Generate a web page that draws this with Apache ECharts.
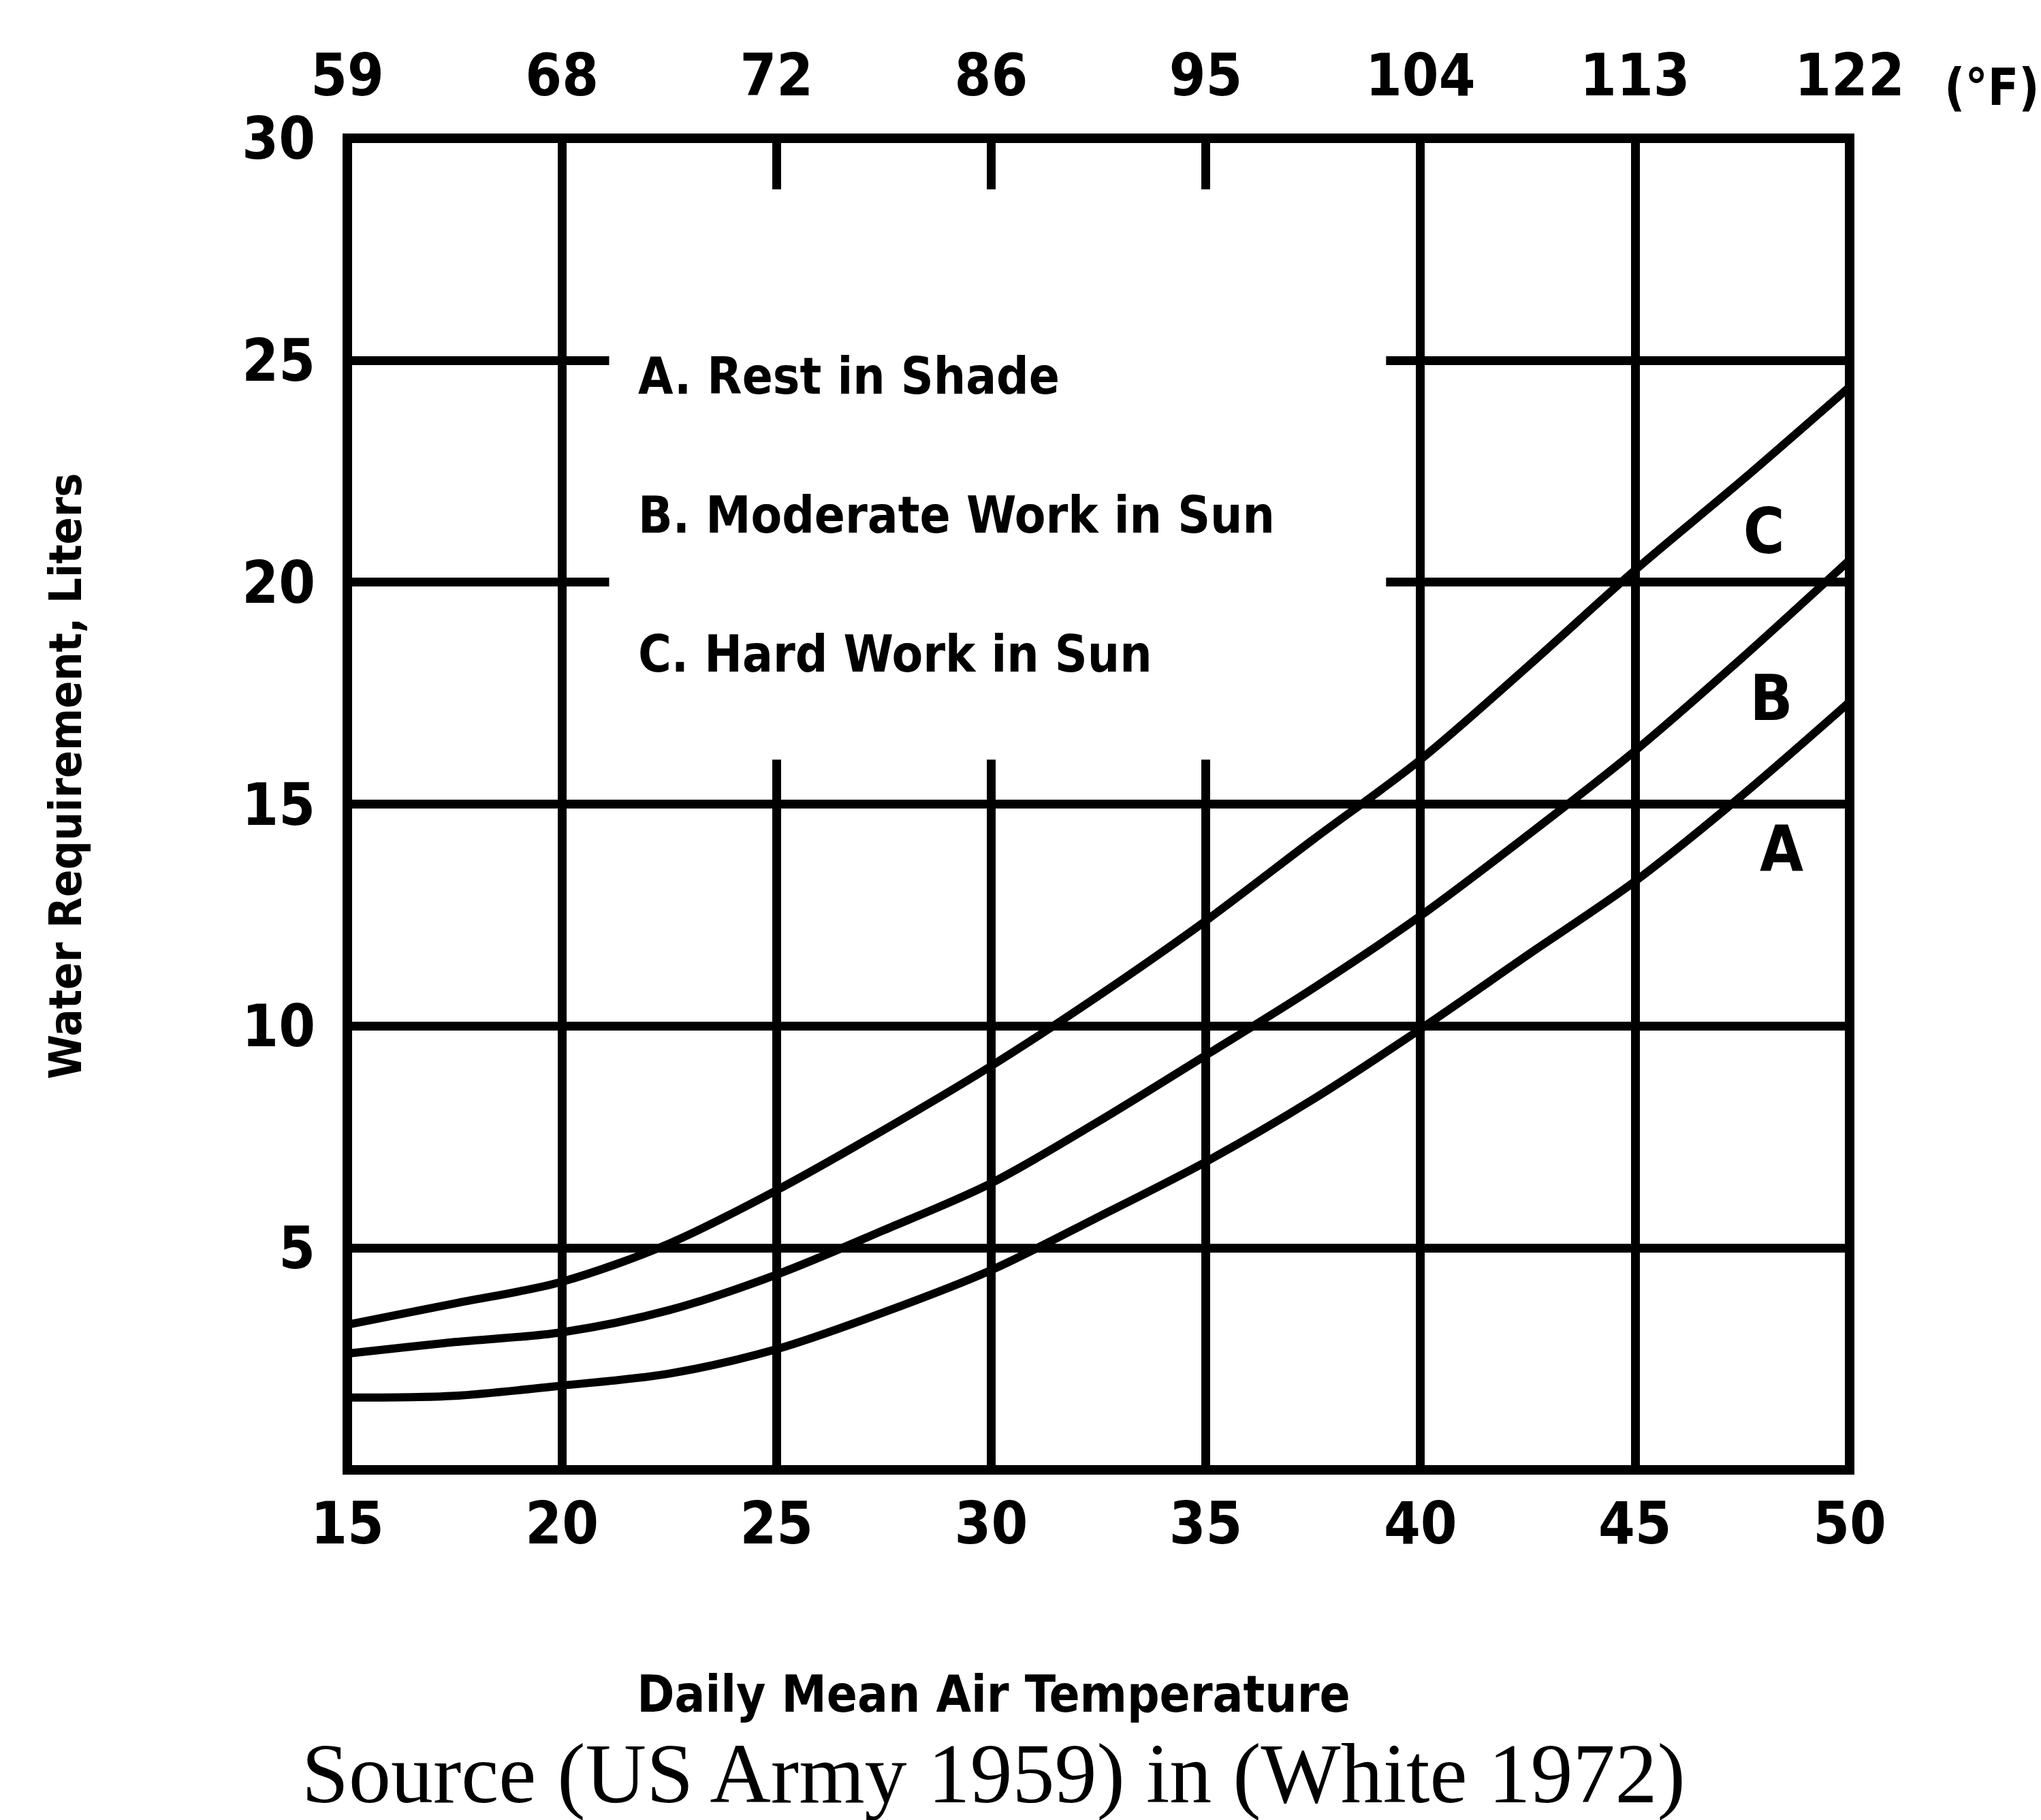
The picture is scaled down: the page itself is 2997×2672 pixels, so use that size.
<!DOCTYPE html>
<html>
<head>
<meta charset="utf-8">
<script src="https://cdn.jsdelivr.net/npm/echarts/dist/echarts.min.js"></script>
<style>
html,body{margin:0;padding:0;background:#ffffff;}
#chart{width:2997px;height:2672px;}
</style>
</head>
<body>
<div id="chart"></div>
<script>
// ---- data ----
const tempC        = [15, 17.5, 20, 22.5, 25, 27.5, 30, 32.5, 35, 37.5, 40, 42.5, 45, 47.5, 50];
const restShade    = [1.63, 1.67, 1.90, 2.17, 2.72, 3.55, 4.50, 5.70, 6.94, 8.35, 9.93, 11.6, 13.26, 15.2, 17.3];
const moderateSun  = [2.62, 2.88, 3.10, 3.60, 4.40, 5.40, 6.46, 7.85, 9.34, 10.85, 12.48, 14.3, 16.2, 18.3, 20.5];
const hardSun      = [3.27, 3.75, 4.24, 5.10, 6.30, 7.66, 9.10, 10.68, 12.37, 14.2, 16.0, 18.1, 20.27, 22.3, 24.4];
const seriesNames  = ['A. Rest in Shade', 'B. Moderate Work in Sun', 'C. Hard Work in Sun'];
const curveTags    = ['A', 'B', 'C'];
const fahrenheitLabels = ['59', '68', '72', '86', '95', '104', '113', '122'];
const fahrenheitUnit   = '(°F)';

// grid lines of the printed chart (some are interrupted around the legend block)
const yGridFull   = [5, 10, 15];
const yGridBroken = [20, 25];
const xGridFull   = [20, 40, 45];
const xGridBroken = [25, 30, 35];
const legendBlock = { xFrom: 21.1, xTo: 39.2, yFrom: 16.0 };

const NARROW = '"Liberation Sans Narrow", "DejaVu Sans Condensed", "Liberation Sans", sans-serif';
const SERIF  = '"Liberation Serif", "DejaVu Serif", serif';

const seg = (a, b) => [{ coord: a }, { coord: b }];
const gridSegments = [];
yGridFull.forEach(y => gridSegments.push(seg([15, y], [50, y])));
yGridBroken.forEach(y => {
  gridSegments.push(seg([15, y], [legendBlock.xFrom, y]));
  gridSegments.push(seg([legendBlock.xTo, y], [50, y]));
});
xGridFull.forEach(x => gridSegments.push(seg([x, 0], [x, 30])));
xGridBroken.forEach(x => gridSegments.push(seg([x, 0], [x, legendBlock.yFrom])));

const pairs = vals => tempC.map((t, i) => [t, vals[i]]);
const curves = [restShade, moderateSun, hardSun];
const tagOffsets = [[-100, 216], [-115, 203], [-126, 213]];

const chart = echarts.init(document.getElementById('chart'), null, { renderer: 'svg' });

const series = curves.map((vals, k) => ({
  name: seriesNames[k],
  type: 'line',
  data: pairs(vals),
  smooth: 0.3,
  symbol: 'none',
  showSymbol: false,
  silent: true,
  lineStyle: { color: '#000', width: 12, cap: 'round' },
  itemStyle: { color: '#000' },
  endLabel: {
    show: true,
    formatter: curveTags[k],
    fontFamily: NARROW,
    fontWeight: 'bold',
    fontSize: 92,
    color: '#000',
    align: 'center',
    verticalAlign: 'middle',
    distance: 0,
    offset: tagOffsets[k]
  },
  markLine: k === 0 ? {
    silent: true,
    symbol: ['none', 'none'],
    label: { show: false },
    lineStyle: { color: '#000', width: 13, type: 'solid' },
    emphasis: { disabled: true },
    animation: false,
    data: gridSegments
  } : undefined,
  z: 3
}));

chart.setOption({
  animation: false,
  backgroundColor: '#ffffff',
  title: [{
    text: 'Source (US Army 1959) in (White 1972)',
    left: 443,
    top: 2542,
    padding: 0,
    textStyle: { fontFamily: SERIF, fontWeight: 'normal', fontSize: 124, lineHeight: 124, color: '#000' }
  }, {
    text: fahrenheitUnit,
    left: 2855,
    top: 90,
    padding: 0,
    textStyle: { fontFamily: NARROW, fontWeight: 'bold', fontSize: 74, lineHeight: 76, color: '#000' }
  }],
  legend: {
    data: seriesNames,
    orient: 'vertical',
    left: 932,
    top: 502,
    padding: 0,
    icon: 'none',
    itemWidth: 0,
    itemHeight: 100,
    itemGap: 104,
    selectedMode: false,
    textStyle: { fontFamily: NARROW, fontWeight: 'bold', fontSize: 74, lineHeight: 100, color: '#000' }
  },
  grid: {
    left: 510, right: 281, top: 203, bottom: 514,
    show: true, borderColor: '#000', borderWidth: 14,
    containLabel: false, outerBoundsMode: 'none'
  },
  xAxis: [{
    type: 'value', position: 'bottom', min: 15, max: 50, interval: 5,
    axisLine: { show: false }, axisTick: { show: false }, splitLine: { show: false },
    axisLabel: { margin: 35, fontFamily: NARROW, fontWeight: 'bold', fontSize: 86, lineHeight: 86, color: '#000' },
    name: 'Daily Mean Air Temperature', nameLocation: 'middle', nameGap: 292, nameMoveOverlap: false,
    nameTextStyle: { fontFamily: NARROW, fontWeight: 'bold', fontSize: 74, lineHeight: 74, color: '#000', padding: [0, 308, 0, 0] }
  }, {
    type: 'value', position: 'top', min: 15, max: 50, interval: 5,
    axisLine: { show: false }, splitLine: { show: false },
    axisTick: { show: true, inside: true, length: 75, lineStyle: { color: '#000', width: 13 } },
    axisLabel: {
      margin: 50, fontFamily: NARROW, fontWeight: 'bold', fontSize: 86, lineHeight: 86, color: '#000',
      formatter: v => fahrenheitLabels[Math.round((v - 15) / 5)]
    }
  }],
  yAxis: [{
    type: 'value', min: 0, max: 30, interval: 5,
    axisLine: { show: false }, axisTick: { show: false }, splitLine: { show: false },
    axisLabel: { margin: 47, showMinLabel: false, fontFamily: NARROW, fontWeight: 'bold', fontSize: 86, lineHeight: 86, color: '#000' },
    name: 'Water Requirement, Liters', nameLocation: 'middle', nameGap: 381, nameMoveOverlap: false,
    nameTextStyle: { fontFamily: NARROW, fontWeight: 'bold', fontSize: 66, lineHeight: 66, color: '#000', padding: [0, 0, 0, 82] }
  }],
  series: series
});
</script>
</body>
</html>
